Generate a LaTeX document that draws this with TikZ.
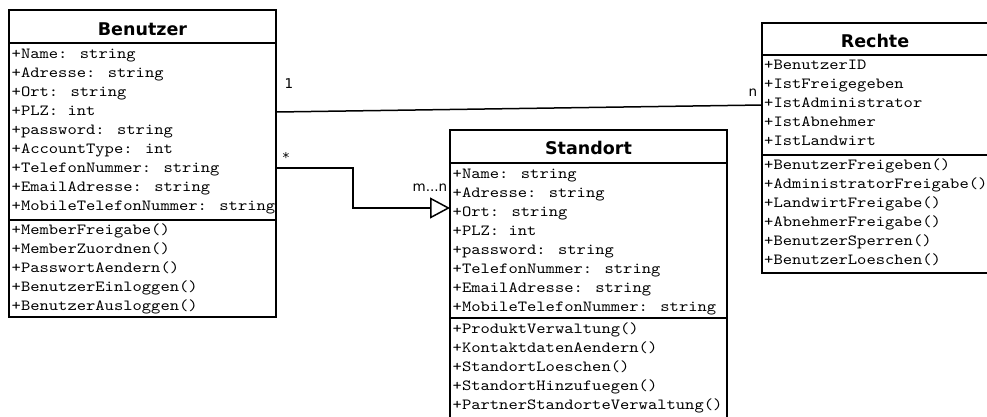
\documentclass[tikz,border=0pt]{standalone}
\usepackage{fontspec}
\usepackage{graphicx}
\usetikzlibrary{arrows.meta}
\newfontfamily\monof{lmmono10-regular}[Extension=.otf]
\newfontfamily\sansf{DejaVu Sans}
\newcommand\mrowtxt[1]{\scalebox{1.143}[1]{#1}}
\begin{document}
\begin{tikzpicture}[x=1pt,y=-1pt,
  box/.style={draw=black, line width=1.5pt, anchor=north west, inner sep=0pt, outer sep=0pt},
  ttl/.style={font=\sansf\bfseries\fontsize{17.5}{20}\selectfont, anchor=base, inner sep=0pt},
  row/.style={font=\monof\fontsize{15.5}{19}\selectfont, anchor=base west, inner sep=0pt},
  lbl/.style={font=\sansf\fontsize{13.5}{16}\selectfont, inner sep=0pt},
  conn/.style={line width=1.5pt}]
\useasboundingbox (0,0) rectangle (987,416);
\clip (0,0) rectangle (987,416);

% ---------- Benutzer ----------
\node[box, minimum width=267pt, minimum height=33pt] (benT) at (9,10) {};
\node[box, minimum width=267pt, minimum height=177pt] (benA) at (9,43) {};
\node[box, minimum width=267pt, minimum height=97pt] (benM) at (9,220) {};
\node[ttl] (benTt) at (142.5,35) {Benutzer};
\foreach \t [count=\i] in {+Name: string,+Adresse: string,+Ort: string,+PLZ: int,+password: string,+AccountType: int,+TelefonNummer: string,+EmailAdresse: string,+MobileTelefonNummer: string}
  \node[row] (benA\i) at (11.5,{58.5+19*(\i-1)}) {\mrowtxt{\t}};
\foreach \t [count=\i] in {+MemberFreigabe(),+MemberZuordnen(),+PasswortAendern(),+BenutzerEinloggen(),+BenutzerAusloggen()}
  \node[row] (benM\i) at (11.5,{234+19.2*(\i-1)}) {\mrowtxt{\t}};

% ---------- Standort ----------
\node[box, minimum width=277pt, minimum height=33pt] (stoT) at (450,130) {};
\node[box, minimum width=277pt, minimum height=155pt] (stoA) at (450,163) {};
\node[box, minimum width=277pt, minimum height=102pt] (stoM) at (450,318) {};
\node[ttl] (stoTt) at (588.5,154) {Standort};
\foreach \t [count=\i] in {+Name: string,+Adresse: string,+Ort: string,+PLZ: int,+password: string,+TelefonNummer: string,+EmailAdresse: string,+MobileTelefonNummer: string}
  \node[row] (stoA\i) at (452.5,{178.5+19*(\i-1)}) {\mrowtxt{\t}};
\foreach \t [count=\i] in {+ProduktVerwaltung(),+KontaktdatenAendern(),+StandortLoeschen(),+StandortHinzufuegen(),+PartnerStandorteVerwaltung()}
  \node[row] (stoM\i) at (452.5,{333+19*(\i-1)}) {\mrowtxt{\t}};

% ---------- Rechte ----------
\node[box, minimum width=235pt, minimum height=32pt] (rchT) at (762,23) {};
\node[box, minimum width=235pt, minimum height=100pt] (rchA) at (762,55) {};
\node[box, minimum width=235pt, minimum height=118pt] (rchM) at (762,155) {};
\node[ttl] (rchTt) at (875,47) {Rechte};
\foreach \t [count=\i] in {+BenutzerID,+IstFreigegeben,+IstAdministrator,+IstAbnehmer,+IstLandwirt}
  \node[row] (rchA\i) at (764,{69.5+19*(\i-1)}) {\mrowtxt{\t}};
\foreach \t [count=\i] in {+BenutzerFreigeben(),+AdministratorFreigabe(),+LandwirtFreigabe(),+AbnehmerFreigabe(),+BenutzerSperren(),+BenutzerLoeschen()}
  \node[row] (rchM\i) at (764,{169.5+19*(\i-1)}) {\mrowtxt{\t}};

% ---------- Connectors ----------
\draw[conn] ([yshift=-69pt]benA.north east) -- ([yshift=-50pt]rchA.north west);
\draw[conn, -{Triangle[open, length=20pt, width=21pt, fill=white]}]
  ([yshift=-125pt]benA.north east) -- ++(77,0) |- ([yshift=-45pt]stoA.north west);

% ---------- Labels ----------
\node[lbl] (l1) at (289,84) {1};
\node[lbl] (lstar) at (286,157) {*};
\node[lbl] (ln) at (753,93) {n};
\node[lbl] (lmn) at (430,188) {m...n};
\end{tikzpicture}
\end{document}
